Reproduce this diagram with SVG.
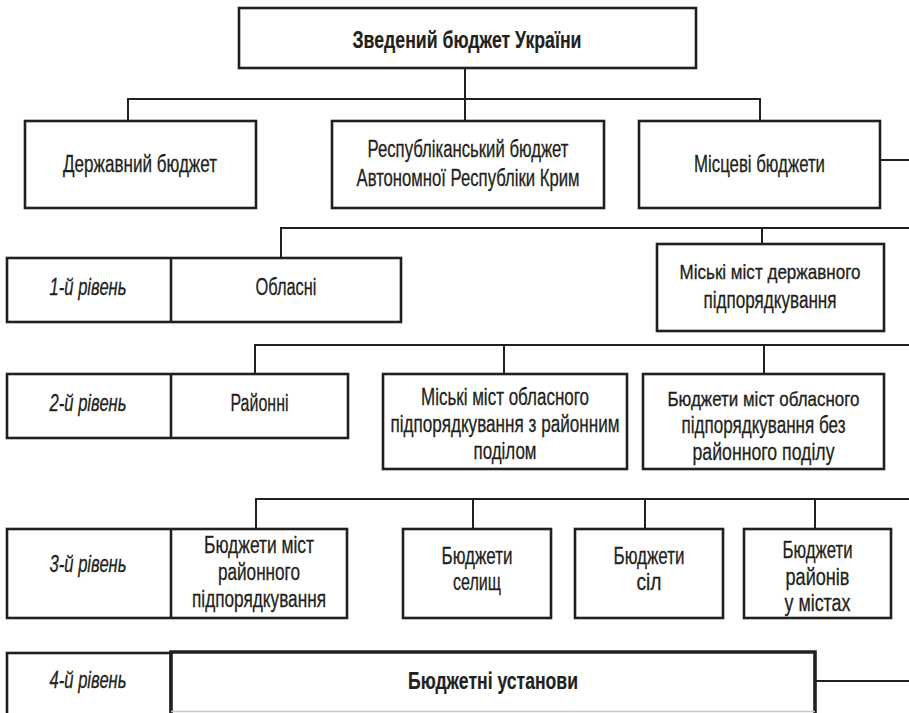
<svg xmlns="http://www.w3.org/2000/svg" width="909" height="713" viewBox="0 0 909 713">
<style>
.bx{fill:#fff;stroke:#231f20;stroke-width:2.6}
.ln{fill:none;stroke:#231f20;stroke-width:2}
text{font-family:"Liberation Sans",Arial,sans-serif;font-size:23px;fill:#231f20;stroke:#231f20;stroke-width:0.3;text-anchor:middle}
.b{font-weight:bold;stroke-width:0.2}
.i{font-style:italic}
.s{font-size:21px;stroke-width:0.35}
</style>
<rect width="909" height="713" fill="#fff"/>
<g id="connectors">
<path class="ln" d="M465,68V120M128,120V99H760V120"/>
<path class="ln" d="M880,160H909"/>
<path class="ln" d="M281,258V228H909M762,228V244"/>
<path class="ln" d="M255,374V345H909M504,345V374M764,345V374"/>
<path class="ln" d="M256,529V499H909M473,499V529M645,499V529M815,499V529"/>
<path class="ln" d="M815,681H909"/>
</g>
<g id="n-zved">
<rect class="bx" x="239" y="8" width="457" height="60"/>
<text class="b" x="467" y="48" textLength="229" lengthAdjust="spacingAndGlyphs">Зведений бюджет України</text>
</g>
<g id="n-derzh">
<rect class="bx" x="25" y="121" width="231" height="87"/>
<text x="140" y="172" textLength="154" lengthAdjust="spacingAndGlyphs">Державний бюджет</text>
</g>
<g id="n-resp">
<rect class="bx" x="332" y="121" width="272" height="87"/>
<text x="468" y="157" textLength="201" lengthAdjust="spacingAndGlyphs">Республіканський бюджет</text>
<text x="468" y="186" textLength="223" lengthAdjust="spacingAndGlyphs">Автономної Республіки Крим</text>
</g>
<g id="n-mists">
<rect class="bx" x="639" y="121" width="241" height="87"/>
<text x="759.5" y="172" textLength="131" lengthAdjust="spacingAndGlyphs">Місцеві бюджети</text>
</g>
<g id="n-level1">
<rect class="bx" x="7" y="258" width="394" height="64"/>
<path class="ln" d="M171,258V322" style="stroke-width:2.6"/>
<text class="i" x="88" y="295" textLength="77" lengthAdjust="spacingAndGlyphs">1-й рівень</text>
<text x="286" y="295" textLength="61" lengthAdjust="spacingAndGlyphs">Обласні</text>
</g>
<g id="n-derzhpid">
<rect class="bx" x="657" y="244" width="227" height="87"/>
<text class="s" x="770" y="279" textLength="181" lengthAdjust="spacingAndGlyphs">Міські міст державного</text>
<text x="770" y="308" textLength="133" lengthAdjust="spacingAndGlyphs">підпорядкування</text>
</g>
<g id="n-level2">
<rect class="bx" x="7" y="374" width="341" height="64"/>
<path class="ln" d="M171,374V438" style="stroke-width:2.6"/>
<text class="i" x="88" y="411" textLength="77" lengthAdjust="spacingAndGlyphs">2-й рівень</text>
<text x="259.5" y="411" textLength="58" lengthAdjust="spacingAndGlyphs">Районні</text>
</g>
<g id="n-oblz">
<rect class="bx" x="383" y="374" width="244" height="95"/>
<text x="505" y="405" textLength="168" lengthAdjust="spacingAndGlyphs">Міські міст обласного</text>
<text x="505" y="432" textLength="229" lengthAdjust="spacingAndGlyphs">підпорядкування з районним</text>
<text x="505" y="459" textLength="63" lengthAdjust="spacingAndGlyphs">поділом</text>
</g>
<g id="n-oblbez">
<rect class="bx" x="643" y="374" width="241" height="95"/>
<text class="s" x="763.5" y="406" textLength="192" lengthAdjust="spacingAndGlyphs">Бюджети міст обласного</text>
<text x="763.5" y="433" textLength="164" lengthAdjust="spacingAndGlyphs">підпорядкування без</text>
<text x="763.5" y="460" textLength="142" lengthAdjust="spacingAndGlyphs">районного поділу</text>
</g>
<g id="n-level3">
<rect class="bx" x="7" y="529" width="340" height="89"/>
<path class="ln" d="M171,529V618" style="stroke-width:2.6"/>
<text class="i" x="88" y="572" textLength="77" lengthAdjust="spacingAndGlyphs">3-й рівень</text>
<text x="259" y="553" textLength="110" lengthAdjust="spacingAndGlyphs">Бюджети міст</text>
<text x="259" y="580" textLength="82" lengthAdjust="spacingAndGlyphs">районного</text>
<text x="259" y="607" textLength="134" lengthAdjust="spacingAndGlyphs">підпорядкування</text>
</g>
<g id="n-selysch">
<rect class="bx" x="403" y="529" width="148" height="89"/>
<text x="477" y="564" textLength="71" lengthAdjust="spacingAndGlyphs">Бюджети</text>
<text x="477" y="590" textLength="48" lengthAdjust="spacingAndGlyphs">селищ</text>
</g>
<g id="n-sil">
<rect class="bx" x="575" y="529" width="148" height="89"/>
<text x="649" y="564" textLength="71" lengthAdjust="spacingAndGlyphs">Бюджети</text>
<text x="649" y="590" textLength="25" lengthAdjust="spacingAndGlyphs">сіл</text>
</g>
<g id="n-raion">
<rect class="bx" x="744" y="529" width="147" height="89"/>
<text x="817.5" y="558" textLength="70" lengthAdjust="spacingAndGlyphs">Бюджети</text>
<text x="817.5" y="585" textLength="64" lengthAdjust="spacingAndGlyphs">районів</text>
<text x="817.5" y="611" textLength="66" lengthAdjust="spacingAndGlyphs">у містах</text>
</g>
<g id="n-level4">
<rect class="bx" x="7" y="653" width="164" height="80"/>
<text class="i" x="88" y="688" textLength="77" lengthAdjust="spacingAndGlyphs">4-й рівень</text>
</g>
<g id="n-ustanovy">
<rect fill="#fff" x="171" y="652" width="644" height="60"/>
<path d="M171,713V652H815V713" fill="none" stroke="#231f20" stroke-width="3.6"/>
<path d="M171,711.5H815" fill="none" stroke="#c8c8c8" stroke-width="1.5"/>
<text class="b" x="493" y="689" textLength="170" lengthAdjust="spacingAndGlyphs">Бюджетні установи</text>
</g>
</svg>
